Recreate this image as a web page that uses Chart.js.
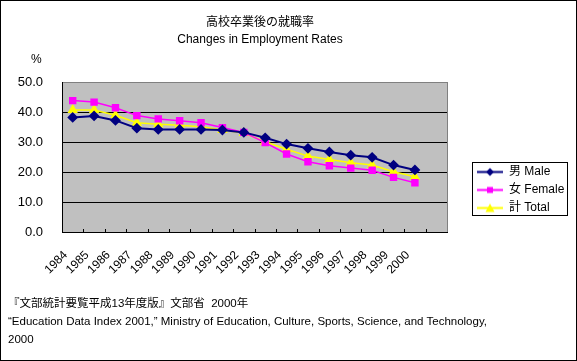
<!DOCTYPE html>
<html>
<head>
<meta charset="utf-8">
<script src="https://cdn.jsdelivr.net/npm/chart.js@4/dist/chart.umd.min.js"></script>
<style>
  body { margin: 0; background: #fff; }
  #wrap { position: relative; width: 577px; height: 361px; font-family: "Liberation Sans", "Noto Sans CJK JP", sans-serif; color: #000; }
  #wrap canvas { position: absolute; left: 0; top: 0; }
  .txt { position: absolute; font-size: 12px; line-height: 17px; white-space: nowrap; }
  #title { left: 110px; width: 300px; top: 14px; text-align: center; }
  #unit { left: 31px; top: 51px; }
  #source { left: 8px; top: 294px; line-height: 18px; font-size: 11.5px; }
</style>
</head>
<body>
<div id="wrap">
  <canvas id="myChart" width="577" height="361"></canvas>
  <div class="txt" id="title">高校卒業後の就職率<br>Changes in Employment Rates</div>
  <div class="txt" id="unit">%</div>
  <div class="txt" id="source">『文部統計要覧平成13年度版』文部省&nbsp; 2000年<br>“Education Data Index 2001,” Ministry of Education, Culture, Sports, Science, and Technology,<br>2000</div>
</div>
<script>
var years = ['1984','1985','1986','1987','1988','1989','1990','1991','1992','1993','1994','1995','1996','1997','1998','1999','2000'];
var male   = [38.2, 38.7, 37.2, 34.6, 34.2, 34.2, 34.2, 34.0, 33.2, 31.4, 29.3, 27.9, 26.7, 25.6, 24.9, 22.3, 20.7];
var female = [43.8, 43.3, 41.4, 38.8, 37.7, 37.1, 36.4, 34.8, 33.2, 29.8, 26.0, 23.4, 22.1, 21.3, 20.6, 18.2, 16.4];
var total  = [40.7, 40.7, 38.9, 36.4, 35.9, 35.6, 35.1, 34.0, 33.0, 30.1, 27.6, 25.3, 24.2, 23.1, 22.3, 20.1, 18.4];
var seriesNames = ['男 Male', '女 Female', '計 Total'];

// the axis in the original has one empty slot after 2000
var labels = years.concat(['']);

var font = 'Liberation Sans, Noto Sans CJK JP, sans-serif';

// little legend samples: a line with the marker in the middle
function sample(color, shape) {
    var c = document.createElement('canvas');
    c.width = 26; c.height = 11;
    var g = c.getContext('2d');
    g.strokeStyle = color; g.fillStyle = color; g.lineWidth = 2;
    g.beginPath(); g.moveTo(0, 5.5); g.lineTo(26, 5.5); g.stroke();
    g.beginPath();
    if (shape == 'diamond') {
        g.moveTo(13, 1.5); g.lineTo(17, 5.5); g.lineTo(13, 9.5); g.lineTo(9, 5.5);
    } else if (shape == 'square') {
        g.rect(10, 2.5, 6, 6);
    } else {
        g.moveTo(13, 1); g.lineTo(17.5, 9.5); g.lineTo(8.5, 9.5);
    }
    g.closePath(); g.fill();
    return c;
}
var samples = [sample('#000080', 'diamond'), sample('#FF00FF', 'square'), sample('#FFFF00', 'triangle')];

var frame = {
    id: 'frame',
    afterLayout: function(chart) {
        var lg = chart.legend;
        lg.left = 471; lg.top = 160;
        lg.right = lg.left + lg.width; lg.bottom = lg.top + 60;
    },
    beforeDraw: function(chart) {
        var ctx = chart.ctx, a = chart.chartArea;
        ctx.save();
        ctx.fillStyle = '#C0C0C0';
        ctx.fillRect(a.left, a.top, a.right - a.left, a.bottom - a.top);
        ctx.restore();
    },
    beforeDatasetsDraw: function(chart) {
        var ctx = chart.ctx, a = chart.chartArea, xs = chart.scales.x;
        ctx.save();
        ctx.strokeStyle = '#808080'; ctx.lineWidth = 1;
        ctx.beginPath();
        ctx.moveTo(Math.round(a.right) + 0.5, a.top); ctx.lineTo(Math.round(a.right) + 0.5, a.bottom);
        ctx.stroke();
        // small tick marks between categories, pointing up into the plot
        var step = (xs.right - xs.left) / labels.length;
        ctx.strokeStyle = '#000';
        ctx.beginPath();
        for (var i = 1; i < labels.length; i++) {
            var x = Math.round(xs.left + i * step) + 0.5;
            ctx.moveTo(x, a.bottom - 3); ctx.lineTo(x, a.bottom);
        }
        ctx.stroke();
        ctx.restore();
    },
    afterDraw: function(chart) {
        var ctx = chart.ctx;
        ctx.save();
        ctx.strokeStyle = '#000'; ctx.lineWidth = 1;
        ctx.strokeRect(472.5, 162.5, 95, 53);
        ctx.strokeRect(0.5, 0.5, 576, 360);
        ctx.restore();
    }
};

var ctx = document.getElementById('myChart').getContext('2d');
var myChart = new Chart(ctx, {
    type: 'line',
    data: {
        labels: labels,
        datasets: [{
            label: seriesNames[0], data: male,
            borderColor: '#000080', backgroundColor: '#000080',
            borderWidth: 2, pointStyle: 'rectRot', pointRadius: 4
        }, {
            label: seriesNames[1], data: female,
            borderColor: '#FF00FF', backgroundColor: '#FF00FF',
            borderWidth: 1.5, pointStyle: 'rect', pointRadius: 4.2
        }, {
            label: seriesNames[2], data: total,
            borderColor: '#FFFF00', backgroundColor: '#FFFF00',
            borderWidth: 1.5, pointStyle: 'triangle', pointRadius: 4.5
        }]
    },
    options: {
        responsive: false,
        animation: false,
        layout: { padding: { left: 0, top: 82, right: 130, bottom: 69 } },
        plugins: {
            title: { display: false },
            tooltip: { enabled: false },
            legend: {
                position: 'chartArea',
                align: 'start',
                labels: {
                    usePointStyle: true,
                    pointStyleWidth: 26,
                    padding: 6,
                    color: '#000',
                    font: { family: font, size: 12 },
                    generateLabels: function(chart) {
                        var items = Chart.defaults.plugins.legend.labels.generateLabels(chart);
                        items.forEach(function(it, i) { it.pointStyle = samples[i]; });
                        return items;
                    }
                }
            }
        },
        scales: {
            x: {
                offset: true,
                grid: { display: false, drawTicks: false },
                border: { display: true, color: '#000', width: 1 },
                ticks: {
                    autoSkip: false, maxRotation: 45, minRotation: 45,
                    padding: 16, labelOffset: -7, color: '#000',
                    font: { family: font, size: 12 }
                },
                afterFit: function(scale) { scale.height = 60; }
            },
            y: {
                min: 0, max: 50,
                grid: {
                    drawTicks: false,
                    color: function(c) { return c.tick && c.tick.value === 50 ? '#808080' : '#000'; }
                },
                border: { display: true, color: '#000', width: 1 },
                ticks: {
                    stepSize: 10, padding: 19, color: '#000',
                    font: { family: font, size: 13 },
                    callback: function(v) { return v.toFixed(1); }
                },
                afterFit: function(scale) { scale.width = 62; }
            }
        }
    },
    plugins: [frame]
});
</script>
</body>
</html>
